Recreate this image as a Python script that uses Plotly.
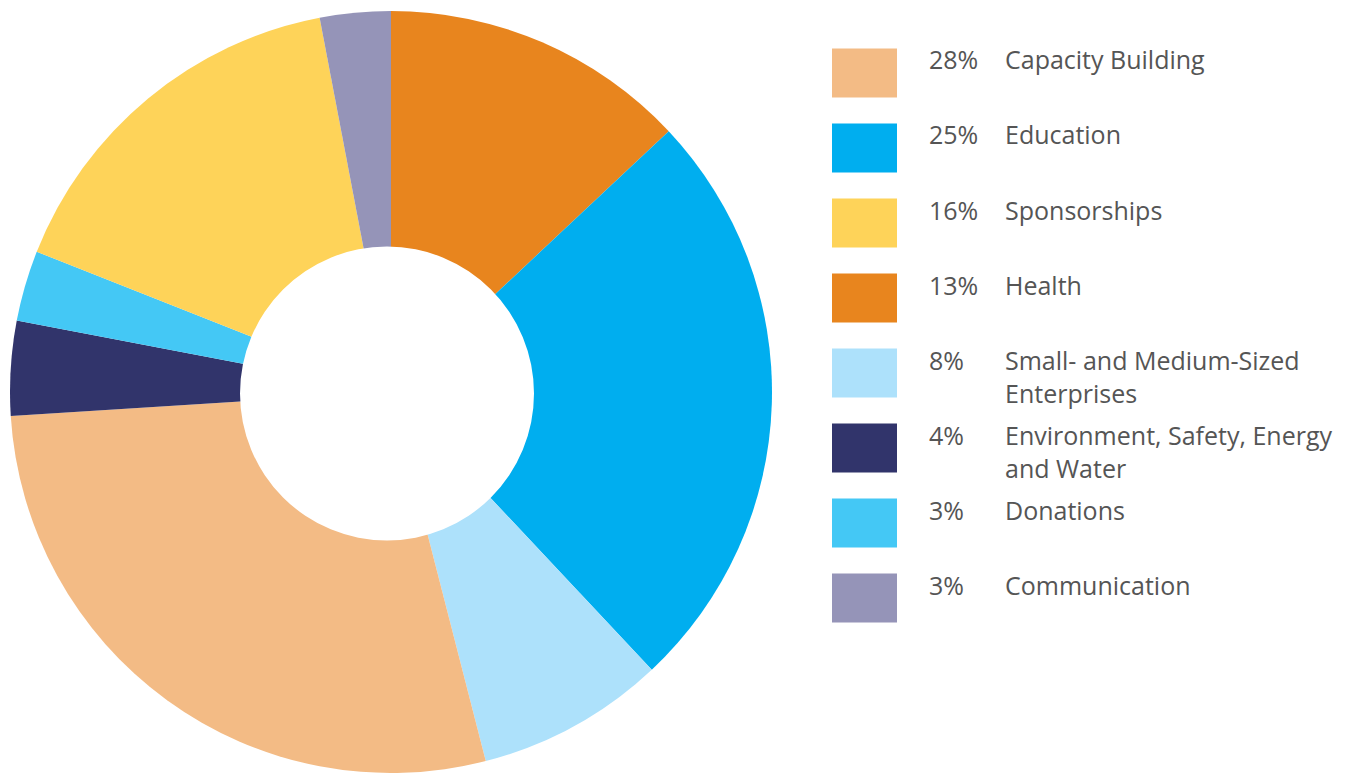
import plotly.graph_objects as go

# The page body adds an 8px offset; figure coordinates below are screen px - 8
W, H = 1344, 765
OFF = 8

# Pie slices in clockwise order starting at 12 o'clock
slice_labels = ["Health", "Education", "Small- and Medium-Sized Enterprises",
                "Capacity Building", "Environment, Safety, Energy and Water",
                "Donations", "Sponsorships", "Communication"]
slice_values = [13, 25, 8, 28, 4, 3, 16, 3]
slice_colors = ["#E8851E", "#00AEEF", "#ADE1FB", "#F3BB85", "#31346B",
                "#44C8F5", "#FED359", "#9594B8"]

# Legend (as printed, in its own order)
legend_pct = ["28%", "25%", "16%", "13%", "8%", "4%", "3%", "3%"]
legend_text = ["Capacity Building", "Education", "Sponsorships", "Health",
               "Small- and Medium-Sized<br>Enterprises",
               "Environment, Safety, Energy<br>and Water",
               "Donations", "Communication"]
legend_colors = ["#F3BB85", "#00AEEF", "#FED359", "#E8851E", "#ADE1FB",
                 "#31346B", "#44C8F5", "#9594B8"]

def px(x):
    return (x - OFF) / W

def py(y):
    return 1 - (y - OFF) / H

fig = go.Figure(go.Pie(
    labels=slice_labels, values=slice_values,
    marker=dict(colors=slice_colors, line=dict(width=0)),
    sort=False, direction="clockwise", rotation=0,
    hole=0, textinfo="none", showlegend=False,
    domain=dict(x=[px(10), px(772)], y=[0, py(11)]),
))

FONT = dict(family="Open Sans, sans-serif", size=25, color="#555555")
shapes, annots = [], []
# donut hole (slightly off-centre, as in the original artwork)
hc_x, hc_y, hr = 387, 393.5, 147
shapes.append(dict(type="circle", xref="paper", yref="paper", layer="above",
                   x0=px(hc_x - hr), x1=px(hc_x + hr),
                   y0=py(hc_y + hr), y1=py(hc_y - hr),
                   fillcolor="white", line=dict(width=0)))

top0, step, sq = 48.5, 75, 49
for i, (p, t, c) in enumerate(zip(legend_pct, legend_text, legend_colors)):
    top = top0 + i * step
    shapes.append(dict(type="rect", xref="paper", yref="paper",
                       x0=px(832), x1=px(897), y0=py(top), y1=py(top + sq),
                       fillcolor=c, line=dict(width=0)))
    annots.append(dict(xref="paper", yref="paper", x=px(927), y=py(top - 8),
                       xanchor="left", yanchor="top", text=p, showarrow=False,
                       font=FONT, align="left"))
    annots.append(dict(xref="paper", yref="paper", x=px(1003), y=py(top - 8),
                       xanchor="left", yanchor="top", text=t, showarrow=False,
                       font=FONT, align="left"))

fig.update_layout(
    width=W, height=H, margin=dict(l=0, r=0, t=0, b=0),
    paper_bgcolor="white", plot_bgcolor="white",
    shapes=shapes, annotations=annots,
)
fig.write_html("out.html")
